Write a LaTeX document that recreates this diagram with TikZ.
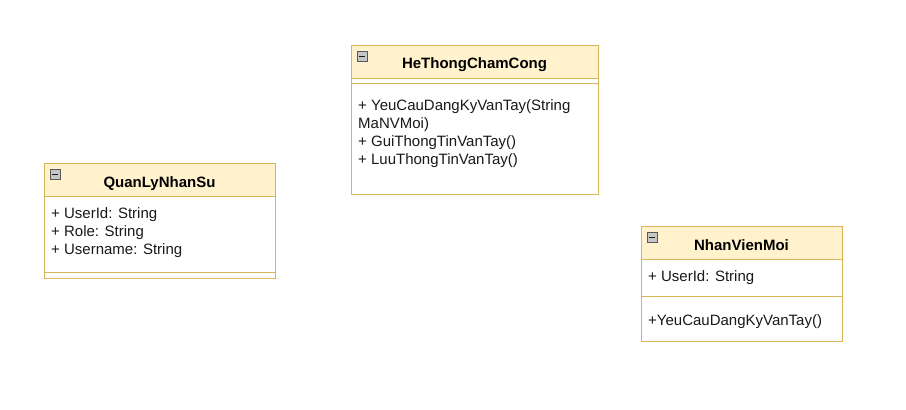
\documentclass[tikz,border=0pt]{standalone}
\usepackage{fontspec}
\setmainfont{Liberation Sans}
\begin{document}
\begin{tikzpicture}[x=1pt,y=-1pt,
  hdr/.style={draw=umlborder,fill=umlhead,line width=1pt},
  bodybox/.style={draw=umlborder,fill=white,line width=1pt},
  title/.style={font=\fontsize{15}{18}\selectfont\bfseries,inner sep=0pt},
  member/.style={font=\fontsize{15}{18}\selectfont,inner sep=0pt,anchor=west,text=black!90},
  icon/.style={draw=gray!70!black,fill=gray!45,line width=0.6pt,minimum size=10.5pt,inner sep=0pt}]
\definecolor{umlhead}{HTML}{FFF2CC}
\definecolor{umlborder}{HTML}{D6B656}
\useasboundingbox (0,0) rectangle (906,410);
\fill[white] (0,0) rectangle (906,410);

% HeThongChamCong
\draw[bodybox] (351,45) rectangle (598,194);
\draw[hdr] (351,45) rectangle (598,78);
\draw[umlborder,line width=1pt] (351,83) -- (598,83);
\node[icon] (i1) at (362.5,56.5) {};
\draw[gray!20!black,line width=1pt] (i1.west) ++(2.5,0) -- ++(5.5,0);
\node[title] (t1) at (474.5,64.5) {HeThongChamCong};
\node[member] (m11) at (358,106.5) {+ YeuCauDangKyVanTay(String};
\node[member] (m12) at (358,124.5) {MaNVMoi)};
\node[member] (m13) at (358,142.5) {+ GuiThongTinVanTay()};
\node[member] (m14) at (358,160.5) {+ LuuThongTinVanTay()};

% QuanLyNhanSu
\draw[bodybox] (44,163) rectangle (275,278);
\draw[hdr] (44,163) rectangle (275,196);
\draw[umlborder,line width=1pt] (44,272) -- (275,272);
\node[icon] (i2) at (55.5,174.5) {};
\draw[gray!20!black,line width=1pt] (i2.west) ++(2.5,0) -- ++(5.5,0);
\node[title] (t2) at (159.5,183.5) {QuanLyNhanSu};
\node[member] (m21) at (51,214.5) {+ UserId: String};
\node[member] (m22) at (51,232.5) {+ Role: String};
\node[member] (m23) at (51,250.5) {+ Username: String};

% NhanVienMoi
\draw[bodybox] (641,226) rectangle (842,341);
\draw[hdr] (641,226) rectangle (842,259);
\draw[umlborder,line width=1pt] (641,296) -- (842,296);
\node[icon] (i3) at (652.5,237.5) {};
\draw[gray!20!black,line width=1pt] (i3.west) ++(2.5,0) -- ++(5.5,0);
\node[title] (t3) at (741.5,245.5) {NhanVienMoi};
\node[member] (m31) at (648,277.5) {+ UserId: String};
\node[member] (m32) at (648,321.5) {+YeuCauDangKyVanTay()};
\end{tikzpicture}
\end{document}
